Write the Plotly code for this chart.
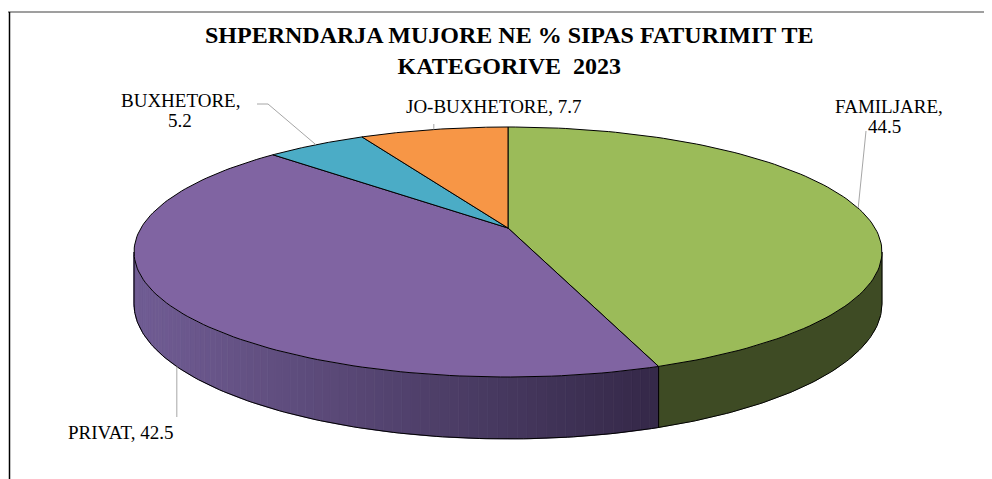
import numpy as np
import plotly.graph_objects as go

# ---------------- data ----------------
categories = ["FAMILJARE", "PRIVAT", "BUXHETORE", "JO-BUXHETORE"]
values = [44.5, 42.5, 5.2, 7.7]
title_lines = ["SHPERNDARJA MUJORE NE % SIPAS FATURIMIT TE", "KATEGORIVE  2023"]

# ---------------- style ----------------
top_colors = ["#9BBB59", "#8064A2", "#4BACC6", "#F79646"]
side_colors = {0: ((62, 75, 36), (62, 75, 36)), 1: ((111, 91, 146), (53, 41, 73))}
FONT = "Liberation Serif"

# pixel-space projection of a tilted pie (perspective)
CX, CY = 508.0, 228.0
S, T, K, H = 367.0, 120.4, 0.192, 50.0
PAGE_OFF = 8  # browser body margin


def proj(theta_deg, drop=0.0):
    th = np.radians(theta_deg)
    u, v = np.sin(th), np.cos(th)
    w = 1 + K * v
    return CX + S * u / w, CY - T * v / w + drop * H / w


fig = go.Figure()

total = sum(values)
bounds = np.concatenate([[0], np.cumsum(values)]) / total * 360.0
VL = np.degrees(np.arccos(-K))
VR = 360.0 - VL


def add_poly(xs, ys, fill, line_color, lw):
    fig.add_trace(go.Scatter(x=list(xs) + [xs[0]], y=list(ys) + [ys[0]], mode="lines",
                             fill="toself", fillcolor=fill,
                             line=dict(color=line_color, width=lw),
                             hoverinfo="skip", showlegend=False))


def add_line(xs, ys, color="black", lw=1.0):
    fig.add_trace(go.Scatter(x=xs, y=ys, mode="lines", line=dict(color=color, width=lw),
                             hoverinfo="skip", showlegend=False))


def lerp(c0, c1, t):
    return "rgb(%d,%d,%d)" % tuple(int(round(a + (b - a) * t)) for a, b in zip(c0, c1))


# ---- sides (front visible part) ----
for i in range(len(values)):
    a0, a1 = max(bounds[i], VL), min(bounds[i + 1], VR)
    if a1 <= a0:
        continue
    c0, c1 = side_colors.get(i, ((80, 80, 80), (80, 80, 80)))
    n = 80 if c0 != c1 else 1
    edges = np.linspace(a0, a1, n + 1)
    for j in range(n):
        th = np.linspace(edges[j], edges[j + 1], 12)
        xt, yt = proj(th)
        xb, yb = proj(th[::-1], 1.0)
        xm = proj((edges[j] + edges[j + 1]) / 2)[0]
        t = min(max((xm - 150.0) / (650.0 - 150.0), 0), 1)
        col = lerp(c0, c1, t)
        add_poly(np.concatenate([xt, xb]), np.concatenate([yt, yb]), col, col, 0.8)

# side outlines
thb = np.linspace(VL, VR, 200)
xb, yb = proj(thb, 1.0)
add_line(list(xb), list(yb))
for a in [VL, VR] + [b for b in bounds if VL < b < VR]:
    x0, y0 = proj(a)
    x1, y1 = proj(a, 1.0)
    add_line([x0, x1], [y0, y1])

# ---- top faces ----
for i in range(len(values)):
    th = np.linspace(bounds[i], bounds[i + 1], 120)
    xt, yt = proj(th)
    add_poly(np.concatenate([[CX], xt]), np.concatenate([[CY], yt]), top_colors[i], "black", 1.0)

# ---- labels & leader lines ----
mids = (bounds[:-1] + bounds[1:]) / 2
GRAY = "#A6A6A6"
mx, my = proj(mids[0])
add_line([mx, 866], [my, 131], GRAY)
mx, my = proj(mids[1] - 4, 1.0)
add_line([mx, mx], [my, 417], GRAY)
mx, my = proj(mids[2])
add_line([mx, 268, 257], [my, 104, 104], GRAY)
mx, my = proj(mids[3])
add_line([mx, mx], [my, 124], GRAY)

LFS = 19
lab = dict(showarrow=False, xref="x", yref="y", font=dict(family=FONT, size=LFS, color="black"))
fig.add_annotation(x=889, y=106, text=f"{categories[0]},", **lab)
fig.add_annotation(x=884, y=126, text=f"{values[0]}", **lab)
fig.add_annotation(x=120, y=432, text=f"{categories[1]}, {values[1]}", **lab)
fig.add_annotation(x=180, y=100, text=f"{categories[2]},", **lab)
fig.add_annotation(x=180, y=120, text=f"{values[2]}", **lab)
fig.add_annotation(x=493, y=106, text=f"{categories[3]}, {values[3]}", **lab)

fig.add_annotation(x=509, y=50, text="<br>".join(title_lines), showarrow=False,
                   xref="x", yref="y", align="center",
                   font=dict(family=FONT, size=24, color="black", weight="bold"))

# chart border (top & left visible)
fig.add_shape(type="line", xref="x", yref="y", x0=8, x1=1000, y0=12, y1=12,
              line=dict(color="#7F7F7F", width=1.5))
fig.add_shape(type="line", xref="x", yref="y", x0=9.5, x1=9.5, y0=12, y1=490,
              line=dict(color="black", width=1.5))

W, Hh = 992 - PAGE_OFF, 479 - PAGE_OFF
fig.update_layout(width=W, height=Hh, margin=dict(l=0, r=0, t=0, b=0),
                  paper_bgcolor="white", plot_bgcolor="white", showlegend=False,
                  xaxis=dict(range=[PAGE_OFF, PAGE_OFF + W], visible=False, fixedrange=True),
                  yaxis=dict(range=[PAGE_OFF + Hh, PAGE_OFF], visible=False, fixedrange=True))

fig.write_html("out.html")
